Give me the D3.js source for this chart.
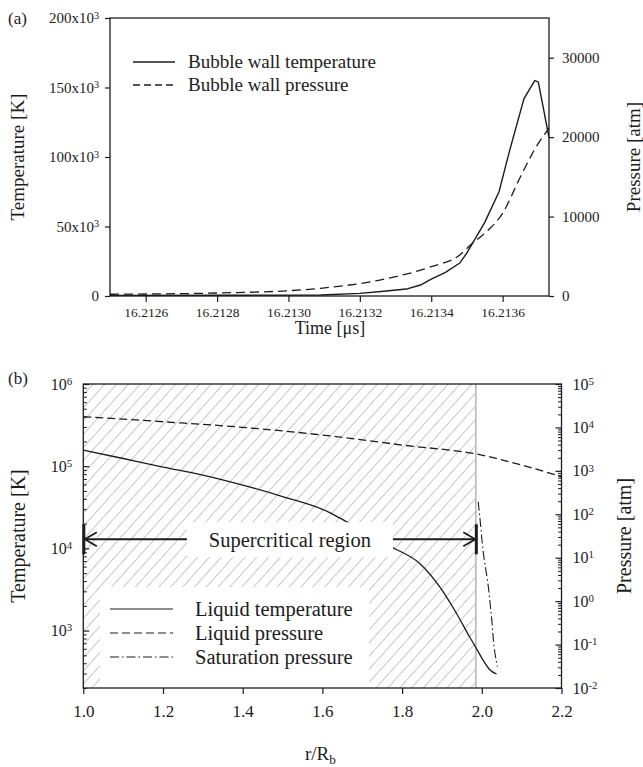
<!DOCTYPE html>
<html><head><meta charset="utf-8">
<script src="https://cdn.jsdelivr.net/npm/d3@7"></script>
<style>
body{margin:0;background:#fff;}
svg, svg text{font-family:"Liberation Serif","Tinos","Times New Roman","DejaVu Serif",serif !important;}
</style></head><body>
<svg id="c" width="643" height="767"></svg>
<script>
// ===== Panel (a) data =====
const timeT = [16.2125, 16.2128, 16.21309, 16.2132, 16.21326, 16.21333, 16.21337, 16.2134, 16.21344, 16.21348, 16.2135, 16.21355, 16.21359, 16.21362, 16.21366, 16.21369, 16.2137, 16.21373];
const wallTemp = [400, 500, 700, 1900, 3200, 5000, 7900, 12200, 17000, 23700, 31000, 53000, 75000, 105000, 142000, 155000, 154000, 114000];
const timeP = [16.2125, 16.2128, 16.21301, 16.21309, 16.21328, 16.2134, 16.21348, 16.21351, 16.21356, 16.2136, 16.21365, 16.2137, 16.21373];
const wallPres = [220, 380, 690, 970, 2230, 3690, 5160, 6420, 8310, 10410, 15020, 19220, 21110];
const xTicksA = [16.2126, 16.2128, 16.2130, 16.2132, 16.2134, 16.2136];
const tTicksA = [0, 50000, 100000, 150000, 200000];
const pTicksA = [0, 10000, 20000, 30000];
const legendA = ["Bubble wall temperature", "Bubble wall pressure"];

// ===== Panel (b) data =====
const rLiqT = [1.0, 1.1, 1.2, 1.3, 1.4, 1.5, 1.621, 1.661, 1.72, 1.774, 1.845, 1.895, 1.937, 1.970, 1.987, 2.004, 2.020, 2.037];
const liqTemp = [156700, 124000, 97700, 78000, 58900, 42700, 26900, 21000, 14800, 10400, 6500, 3370, 1600, 828, 598, 430, 334, 296];
const rLiqP = [1.0, 1.2, 1.4, 1.6, 1.8, 2.0, 2.1, 2.2];
const liqPres = [17660, 13520, 10050, 6680, 3930, 2310, 1360, 731];
const rSat = [1.991, 1.995, 2.004, 2.016, 2.025, 2.033, 2.039];
const satPres = [195, 87, 12.6, 2.3, 0.36, 0.063, 0.031];
const xTicksB = [1.0, 1.2, 1.4, 1.6, 1.8, 2.0, 2.2];
const tDecB = [3, 4, 5, 6];
const pDecB = [-2, -1, 0, 1, 2, 3, 4, 5];
const legendB = ["Liquid temperature", "Liquid pressure", "Saturation pressure"];
const superR = [1.0, 1.985];          // supercritical region extent (r/Rb)
const arrowT = 12900;                  // arrow level (K)
const labelBoxR = [1.26, 1.777], labelBoxT = [7800, 20800];
const legendBoxR = [1.042, 1.717], legendBoxT = [200, 3370];

const SERIF = '"Liberation Serif","Tinos","Times New Roman","DejaVu Serif",serif';
const svg = d3.select("#c").attr("font-family", SERIF);
const INK = "#1c1c1c";

function sup(textSel, base, exp) {
  textSel.text(null);
  textSel.append("tspan").text(base);
  textSel.append("tspan").attr("dy", "-0.45em").attr("font-size", "0.68em").text(exp);
}
function styleAxis(g, fs) {
  g.attr("font-family", SERIF);
  g.select(".domain").remove();
  g.selectAll(".tick line").attr("stroke", INK).attr("stroke-width", 1.2);
  g.selectAll(".tick text").attr("fill", INK).attr("font-size", fs).attr("font-family", SERIF);
}

// ================= Panel (a) =================
const A = {l: 110, r: 549, t: 18, b: 296};
const xA = d3.scaleLinear().domain([16.2125, 16.21373]).range([A.l, A.r]);
const yAT = d3.scaleLinear().domain([0, 200000]).range([A.b, A.t]);
const yAP = d3.scaleLinear().domain([0, 35000]).range([A.b, A.t]);
const gA = svg.append("g");

const axAx = gA.append("g").attr("transform", `translate(0,${A.b})`)
  .call(d3.axisBottom(xA).tickValues(xTicksA).tickFormat(d3.format(".4f")).tickSizeInner(6).tickSizeOuter(0).tickPadding(5));
styleAxis(axAx, 13.5);
const axAy = gA.append("g").attr("transform", `translate(${A.l},0)`)
  .call(d3.axisLeft(yAT).tickValues(tTicksA).tickSizeInner(5).tickSizeOuter(0).tickPadding(6));
styleAxis(axAy, 15);
axAy.selectAll(".tick text").each(function(d) {
  if (d === 0) d3.select(this).text("0");
  else sup(d3.select(this), (d / 1000) + "x10", "3");
});
const axAy2 = gA.append("g").attr("transform", `translate(${A.r},0)`)
  .call(d3.axisRight(yAP).tickValues(pTicksA).tickFormat(d3.format("d")).tickSizeInner(5).tickSizeOuter(0).tickPadding(8));
styleAxis(axAy2, 15);

gA.append("rect").attr("x", A.l).attr("y", A.t).attr("width", A.r - A.l).attr("height", A.b - A.t)
  .attr("fill", "none").attr("stroke", INK).attr("stroke-width", 1.3);

gA.append("defs").append("clipPath").attr("id", "clipA").append("rect")
  .attr("x", A.l).attr("y", A.t).attr("width", A.r - A.l).attr("height", A.b - A.t);

gA.append("path").datum(d3.zip(timeP, wallPres)).attr("clip-path", "url(#clipA)")
  .attr("fill", "none").attr("stroke", INK).attr("stroke-width", 1.3).attr("stroke-dasharray", "9,5")
  .attr("d", d3.line().x(d => xA(d[0])).y(d => yAP(d[1])).curve(d3.curveMonotoneX));
gA.append("path").datum(d3.zip(timeT, wallTemp)).attr("clip-path", "url(#clipA)")
  .attr("fill", "none").attr("stroke", INK).attr("stroke-width", 1.4)
  .attr("d", d3.line().x(d => xA(d[0])).y(d => yAT(d[1])));

// legend (a)
legendA.forEach((name, i) => {
  const y = 62 + i * 23;
  gA.append("line").attr("x1", 133).attr("x2", 175).attr("y1", y).attr("y2", y)
    .attr("stroke", INK).attr("stroke-width", 1.3).attr("stroke-dasharray", i ? "7,4" : null);
  gA.append("text").attr("x", 188).attr("y", y + 6).attr("font-size", 19).attr("fill", INK).text(name);
});

gA.append("text").attr("x", 8).attr("y", 24).attr("font-size", 17).attr("fill", INK).text("(a)");
gA.append("text").attr("transform", `translate(24,${(A.t + A.b) / 2}) rotate(-90)`)
  .attr("text-anchor", "middle").attr("font-size", 19).attr("fill", INK).text("Temperature [K]");
gA.append("text").attr("transform", `translate(640,${(A.t + A.b) / 2}) rotate(-90)`)
  .attr("text-anchor", "middle").attr("font-size", 19).attr("fill", INK).text("Pressure [atm]");
gA.append("text").attr("x", 330).attr("y", 334).attr("text-anchor", "middle").attr("font-size", 18)
  .attr("fill", INK).text("Time [\u03bcs]");

// ================= Panel (b) =================
const B = {l: 83.3, r: 561.5, t: 384, b: 688};
const xB = d3.scaleLinear().domain([1.0, 2.2]).range([B.l, B.r]);
const yBT = d3.scaleLog().domain([200, 1e6]).range([B.b, B.t]);
const yBP = d3.scaleLog().domain([1e-2, 1e5]).range([B.b, B.t]);
const gB = svg.append("g");

const defs = gB.append("defs");
defs.append("pattern").attr("id", "hatch").attr("patternUnits", "userSpaceOnUse")
  .attr("width", 8.8).attr("height", 8.8).attr("patternTransform", "rotate(42)")
  .append("line").attr("x1", 0).attr("y1", 0).attr("x2", 0).attr("y2", 8.8)
  .attr("stroke", "#b4b4b4").attr("stroke-width", 1.5);
defs.append("clipPath").attr("id", "clipB").append("rect")
  .attr("x", B.l).attr("y", B.t).attr("width", B.r - B.l).attr("height", B.b - B.t);

// hatched supercritical region
gB.append("rect").attr("x", xB(superR[0])).attr("y", B.t)
  .attr("width", xB(superR[1]) - xB(superR[0])).attr("height", B.b - B.t).attr("fill", "url(#hatch)");
gB.append("line").attr("x1", xB(superR[1])).attr("x2", xB(superR[1])).attr("y1", B.t).attr("y2", B.b)
  .attr("stroke", "#b8b8b8").attr("stroke-width", 1.6);

// curves
const gc = gB.append("g").attr("clip-path", "url(#clipB)");
gc.append("path").datum(d3.zip(rLiqP, liqPres)).attr("fill", "none").attr("stroke", INK)
  .attr("stroke-width", 1.3).attr("stroke-dasharray", "8,4")
  .attr("d", d3.line().x(d => xB(d[0])).y(d => yBP(d[1])).curve(d3.curveMonotoneX));
gc.append("path").datum(d3.zip(rLiqT, liqTemp)).attr("fill", "none").attr("stroke", INK)
  .attr("stroke-width", 1.3)
  .attr("d", d3.line().x(d => xB(d[0])).y(d => yBT(d[1])).curve(d3.curveMonotoneX));
gc.append("path").datum(d3.zip(rSat, satPres)).attr("fill", "none").attr("stroke", INK)
  .attr("stroke-width", 1.1).attr("stroke-dasharray", "9,3,1.5,3")
  .attr("d", d3.line().x(d => xB(d[0])).y(d => yBP(d[1])).curve(d3.curveMonotoneY));

// white boxes
gB.append("rect").attr("x", xB(labelBoxR[0])).attr("y", yBT(labelBoxT[1]))
  .attr("width", xB(labelBoxR[1]) - xB(labelBoxR[0])).attr("height", yBT(labelBoxT[0]) - yBT(labelBoxT[1])).attr("fill", "#fff");
gB.append("rect").attr("x", xB(legendBoxR[0])).attr("y", yBT(legendBoxT[1]))
  .attr("width", xB(legendBoxR[1]) - xB(legendBoxR[0])).attr("height", yBT(legendBoxT[0]) - yBT(legendBoxT[1])).attr("fill", "#fff");

// axes
const axBx = gB.append("g").attr("transform", `translate(0,${B.b})`)
  .call(d3.axisBottom(xB).tickValues(xTicksB).tickFormat(d3.format(".1f")).tickSizeInner(6).tickSizeOuter(0).tickPadding(11));
styleAxis(axBx, 17);

function logTicks(decs) {
  const out = [];
  decs.forEach((k, i) => {
    out.push(Math.pow(10, k));
    if (i < decs.length - 1) for (let m = 2; m <= 9; m++) out.push(m * Math.pow(10, k));
  });
  return out;
}
const tTicksB = [2, 3, 4, 5, 6, 7, 8, 9].map(m => m * 100).filter(v => v >= 200).concat(logTicks(tDecB));
const pTicksB = logTicks(pDecB);
const isMajor = v => Math.abs(Math.log10(v) - Math.round(Math.log10(v))) < 1e-9;

const axBy = gB.append("g").attr("transform", `translate(${B.l},0)`)
  .call(d3.axisLeft(yBT).tickValues(tTicksB).tickFormat(() => "").tickSizeInner(-6).tickSizeOuter(0).tickPadding(11));
styleAxis(axBy, 16);
axBy.selectAll(".tick").each(function(d) {
  const g = d3.select(this);
  if (!isMajor(d)) { g.select("line").attr("x2", 3.5).attr("stroke-width", 1); g.select("text").remove(); }
  else sup(g.select("text"), "10", String(Math.round(Math.log10(d))));
});
const axBy2 = gB.append("g").attr("transform", `translate(${B.r},0)`)
  .call(d3.axisRight(yBP).tickValues(pTicksB).tickFormat(() => "").tickSizeInner(-6).tickSizeOuter(0).tickPadding(11));
styleAxis(axBy2, 16);
axBy2.selectAll(".tick").each(function(d) {
  const g = d3.select(this);
  if (!isMajor(d)) { g.select("line").attr("x2", -3.5).attr("stroke-width", 1); g.select("text").remove(); }
  else sup(g.select("text"), "10", String(Math.round(Math.log10(d))));
});

gB.append("rect").attr("x", B.l).attr("y", B.t).attr("width", B.r - B.l).attr("height", B.b - B.t)
  .attr("fill", "none").attr("stroke", INK).attr("stroke-width", 1.3);

// arrows
const ay = yBT(arrowT);
function arrow(xFrom, xTip, dir) {
  gB.append("line").attr("x1", xFrom).attr("x2", xTip).attr("y1", ay).attr("y2", ay)
    .attr("stroke", INK).attr("stroke-width", 2);
  gB.append("path").attr("d", `M${xTip - dir * 12},${ay - 7} L${xTip},${ay} L${xTip - dir * 12},${ay + 7}`)
    .attr("fill", "none").attr("stroke", INK).attr("stroke-width", 1.8);
  gB.append("line").attr("x1", xTip + dir * 1).attr("x2", xTip + dir * 1).attr("y1", ay - 15).attr("y2", ay + 15)
    .attr("stroke", INK).attr("stroke-width", 3);
}
arrow(xB(labelBoxR[0]), xB(superR[0]) + 1.5, -1);
arrow(xB(labelBoxR[1]), xB(superR[1]) - 0.5, 1);
gB.append("text").attr("x", (xB(labelBoxR[0]) + xB(labelBoxR[1])) / 2).attr("y", ay + 8)
  .attr("text-anchor", "middle").attr("font-size", 20.5).attr("fill", INK).text("Supercritical region");

// legend (b)
legendB.forEach((name, i) => {
  const y = 609 + i * 24;
  gB.append("line").attr("x1", 110).attr("x2", 173).attr("y1", y).attr("y2", y)
    .attr("stroke", INK).attr("stroke-width", 1.2).attr("stroke-dasharray", [null, "8,4", "9,3,1.5,3"][i]);
  gB.append("text").attr("x", 195).attr("y", y + 7).attr("font-size", 20.5).attr("fill", INK).text(name);
});

gB.append("text").attr("x", 8).attr("y", 384).attr("font-size", 17).attr("fill", INK).text("(b)");
gB.append("text").attr("transform", `translate(25,${(B.t + B.b) / 2}) rotate(-90)`)
  .attr("text-anchor", "middle").attr("font-size", 20).attr("fill", INK).text("Temperature [K]");
gB.append("text").attr("transform", `translate(631,${(B.t + B.b) / 2}) rotate(-90)`)
  .attr("text-anchor", "middle").attr("font-size", 20).attr("fill", INK).text("Pressure [atm]");
const xt = gB.append("text").attr("x", 305).attr("y", 760).attr("font-size", 19).attr("fill", INK);
xt.append("tspan").text("r/R");
xt.append("tspan").attr("dy", "0.3em").attr("font-size", "0.7em").text("b");
</script>
</body></html>
